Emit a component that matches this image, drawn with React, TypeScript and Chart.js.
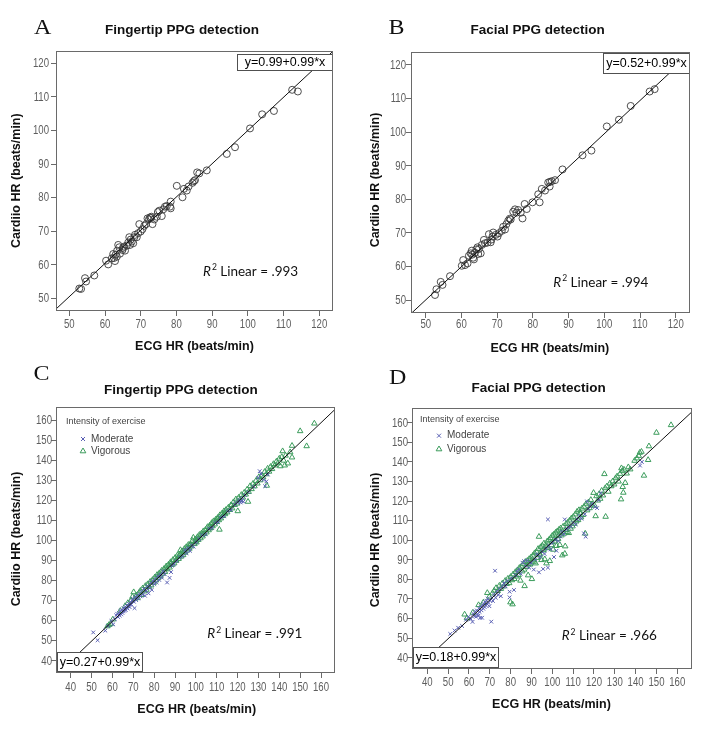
import React, { useEffect, useRef } from "react";
import { Chart, registerables } from "chart.js";
Chart.register(...registerables);

// ---------- DATA ----------
const TICKS_AB = [50, 60, 70, 80, 90, 100, 110, 120];
const TICKS_CD = [40, 50, 60, 70, 80, 90, 100, 110, 120, 130, 140, 150, 160];

// Panel A: fingertip, rest (ECG HR, Cardiio HR)
const A_POINTS: number[][] = [
  [52.8, 52.9], [53.3, 52.8], [54.4, 56.0], [54.7, 55.0], [57.0, 56.8], [60.3, 61.2], [60.9, 60.1],
  [61.9, 61.9], [62.3, 63.2], [62.8, 61.1], [63.3, 62.4], [63.4, 64.2], [64.0, 65.2], [63.7, 65.9],
  [64.2, 63.3], [64.9, 64.4], [65.3, 65.4], [65.6, 64.2], [66.1, 65.7], [66.5, 66.6], [66.8, 68.2],
  [67.0, 65.9], [67.5, 66.9], [67.9, 66.4], [68.2, 68.2], [68.4, 68.9], [68.9, 68.2], [69.3, 69.4],
  [69.6, 72.1], [70.0, 69.9], [70.5, 70.6], [71.0, 71.6], [71.5, 72.1], [71.9, 73.8], [72.3, 73.5],
  [72.6, 74.1], [73.0, 74.3], [73.3, 72.1], [73.8, 73.5], [74.5, 74.3], [74.8, 75.7], [75.2, 76.1],
  [75.9, 74.5], [76.3, 76.5], [76.8, 77.3], [77.3, 77.5], [78.2, 77.3], [78.4, 78.8], [78.4, 76.8],
  [80.1, 83.5], [81.7, 80.1], [82.1, 82.6], [82.9, 82.1], [83.4, 83.3], [84.5, 84.4], [84.9, 84.9],
  [85.2, 85.2], [85.8, 87.5], [86.4, 87.2], [88.5, 88.1], [94.1, 93.0], [96.4, 95.0], [100.6, 100.6],
  [104.0, 104.8], [107.3, 105.8], [112.4, 112.1], [114.0, 111.6], [62.5, 62.0], [63.0, 63.0],
  [72.8, 73.9], [65.0, 65.0], [67.2, 67.5]
];

// Panel B: facial, rest
const B_POINTS: number[][] = [
  [52.6, 51.5], [53.0, 53.2], [54.2, 55.4], [54.7, 54.5], [56.8, 57.1], [60.1, 60.2], [60.5, 61.9],
  [61.0, 60.4], [61.7, 60.9], [62.1, 63.2], [62.6, 63.9], [62.9, 64.7], [63.3, 62.6], [63.5, 62.1],
  [63.8, 64.1], [64.2, 65.1], [64.5, 65.7], [64.7, 63.7], [65.4, 63.9], [65.7, 66.4], [66.3, 67.9],
  [66.6, 66.9], [67.3, 67.1], [67.7, 69.6], [68.2, 67.2], [68.7, 68.9], [68.9, 70.1], [69.6, 69.4],
  [70.1, 68.9], [70.5, 69.9], [71.3, 70.6], [71.7, 71.8], [72.2, 71.0], [72.6, 72.6], [73.1, 73.6],
  [73.8, 74.0], [74.5, 76.3], [75.0, 77.0], [75.4, 76.0], [75.9, 76.8], [76.6, 76.0], [77.1, 74.3],
  [77.7, 78.6], [78.3, 77.1], [79.9, 79.1], [81.5, 81.5], [81.9, 79.1], [82.5, 83.1], [83.4, 82.6],
  [84.3, 85.0], [84.7, 83.8], [85.3, 85.4], [86.2, 85.7], [88.3, 88.9], [93.9, 93.1], [96.4, 94.5],
  [100.7, 101.7], [104.1, 103.7], [107.4, 107.8], [112.7, 112.1], [114.1, 112.8], [63.0, 63.5],
  [64.9, 65.2], [68.4, 68.0], [73.5, 74.2], [84.8, 85.2]
];

// Panel C: fingertip, exercise
const C_MODERATE: number[][] = [
  [50.8, 54.1], [52.9, 50.2], [56.6, 55.0], [57.8, 57.3], [59.5, 59.8], [60.4, 58.1], [61.2, 60.7],
  [61.8, 62.6], [62.3, 63.4], [62.7, 61.8], [63.1, 63.9], [63.5, 62.5], [63.8, 64.7], [64.2, 63.1],
  [64.4, 65.3], [64.8, 63.8], [65.1, 64.6], [65.3, 66.2], [65.7, 64.9], [65.9, 65.8], [66.2, 66.9],
  [66.4, 65.2], [66.8, 66.4], [67.0, 67.6], [67.3, 66.0], [67.6, 67.1], [67.9, 68.4], [68.2, 66.8],
  [68.5, 67.9], [68.8, 69.2], [69.1, 68.0], [69.5, 69.8], [69.8, 70.9], [70.3, 69.4], [70.6, 66.2],
  [70.9, 71.5], [71.4, 70.2], [71.8, 72.4], [72.3, 71.0], [72.9, 73.3], [73.4, 72.1], [74.0, 74.5],
  [74.6, 73.0], [75.1, 75.8], [75.6, 72.4], [76.2, 74.9], [76.8, 77.1], [77.3, 73.6], [77.9, 76.2],
  [78.4, 78.7], [78.9, 75.3], [79.5, 79.8], [80.1, 78.2], [80.6, 80.9], [81.2, 79.0], [81.8, 82.1],
  [82.4, 80.3], [83.0, 82.9], [83.7, 81.4], [84.3, 84.6], [85.0, 83.2], [86.2, 79.0], [87.4, 81.3],
  [88.1, 84.2], [88.6, 87.4], [89.5, 88.1], [90.8, 89.7], [92.3, 91.5], [93.6, 92.1], [94.8, 95.3],
  [95.5, 93.6], [96.4, 96.2], [97.2, 94.8], [98.1, 97.5], [98.9, 96.9], [100.2, 99.1], [101.5, 100.8],
  [103.1, 102.6], [104.7, 103.0], [106.3, 105.9], [107.8, 106.2], [109.4, 108.7], [110.6, 109.1],
  [111.9, 111.4], [113.5, 112.0], [115.2, 114.6], [116.8, 115.1], [118.6, 117.9], [119.8, 118.8],
  [120.6, 119.5], [121.1, 120.3], [121.5, 118.9], [121.9, 119.7], [122.4, 121.2], [122.8, 119.3],
  [123.5, 122.6], [125.2, 124.1], [127.6, 126.8], [129.8, 131.2], [130.6, 134.5], [131.2, 133.1],
  [132.4, 130.2], [133.2, 127.0], [133.8, 129.4], [134.5, 132.8]
];
const C_VIGOROUS: number[][] = [
  [57.6, 57.2], [58.4, 57.9], [59.1, 58.3], [60.2, 60.6], [63.8, 64.9], [66.1, 67.3], [67.4, 68.8],
  [68.9, 70.1], [69.6, 71.9], [70.2, 74.2], [70.8, 70.9], [71.5, 72.6], [72.1, 71.4], [72.7, 73.8],
  [73.4, 74.9], [73.9, 72.8], [74.5, 76.1], [75.2, 74.6], [75.8, 77.3], [76.3, 75.4], [76.9, 78.2],
  [77.5, 76.8], [78.1, 79.4], [78.6, 77.6], [79.2, 80.3], [79.8, 78.9], [80.3, 81.6], [80.9, 80.1],
  [81.4, 82.8], [81.9, 81.2], [82.5, 83.7], [83.0, 82.1], [83.6, 84.9], [84.1, 83.4], [84.7, 85.8],
  [85.2, 84.3], [85.8, 87.1], [86.3, 85.6], [86.9, 88.0], [87.4, 86.5], [87.9, 89.2], [88.5, 87.8],
  [89.0, 90.3], [89.6, 88.6], [90.1, 91.4], [90.6, 89.9], [91.2, 92.6], [91.7, 90.8], [92.3, 93.1],
  [92.6, 95.2], [92.8, 91.9], [93.4, 94.6], [93.9, 92.7], [94.5, 95.8], [94.9, 93.9], [95.4, 96.7],
  [95.9, 95.0], [96.4, 97.8], [96.9, 95.9], [97.4, 98.2], [97.9, 97.0], [98.4, 99.8], [98.8, 101.4],
  [99.3, 98.2], [99.8, 100.6], [100.3, 99.0], [100.8, 101.7], [101.2, 100.3], [101.7, 102.8],
  [102.2, 101.1], [102.7, 103.5], [103.2, 102.0], [103.6, 104.6], [104.1, 103.2], [104.6, 105.3],
  [105.1, 104.0], [105.6, 106.7], [106.1, 105.1], [106.6, 107.4], [107.1, 106.2], [107.6, 108.7],
  [108.0, 107.1], [108.5, 109.6], [109.0, 108.0], [109.5, 110.4], [110.0, 109.2], [110.5, 111.3],
  [111.0, 110.1], [111.3, 105.4], [111.5, 112.6], [112.0, 111.0], [112.5, 113.4], [113.0, 112.2],
  [113.5, 114.6], [114.0, 113.1], [114.5, 115.3], [115.0, 114.0], [115.6, 116.4], [116.2, 115.2],
  [116.8, 117.6], [117.4, 116.0], [118.0, 119.1], [118.6, 117.7], [119.2, 120.5], [119.8, 118.4],
  [120.1, 114.6], [120.5, 121.3], [121.1, 120.2], [121.8, 122.7], [122.5, 121.4], [123.2, 123.8],
  [123.9, 122.9], [124.6, 125.4], [125.0, 119.3], [125.3, 124.2], [126.0, 127.1], [126.7, 125.6],
  [127.4, 128.3], [128.1, 127.0], [128.8, 129.7], [129.5, 128.4], [130.2, 131.6], [130.9, 130.0],
  [131.6, 132.3], [132.3, 131.4], [133.0, 134.2], [133.7, 133.0], [134.0, 127.3], [134.4, 135.8],
  [135.1, 134.3], [135.8, 136.7], [136.5, 135.6], [137.2, 138.1], [137.9, 137.4], [138.6, 139.3],
  [139.3, 138.5], [140.0, 140.8], [140.5, 137.0], [141.2, 141.6], [141.6, 144.5], [142.1, 139.8],
  [142.6, 137.4], [143.0, 142.3], [144.1, 138.4], [145.2, 144.0], [146.1, 147.2], [146.1, 141.4],
  [150.0, 154.5], [153.1, 147.0], [156.8, 158.3], [88.2, 88.6], [90.4, 90.0], [94.2, 94.4],
  [97.1, 97.6], [100.5, 100.2], [103.4, 103.1], [106.8, 106.0], [110.2, 110.6], [113.8, 113.7],
  [117.1, 117.5], [99.6, 99.3], [96.1, 96.3], [92.0, 92.2], [85.5, 85.9], [82.2, 82.4]
];

// Panel D: facial, exercise
const D_MODERATE: number[][] = [
  [51.0, 52.1], [53.1, 53.9], [54.8, 55.3], [56.7, 56.2], [58.6, 59.4], [59.8, 60.9], [60.9, 59.8],
  [61.7, 58.3], [62.1, 62.4], [62.6, 61.2], [63.0, 63.6], [63.4, 60.9], [63.8, 64.1], [64.1, 62.3],
  [64.5, 61.4], [64.8, 65.2], [65.1, 63.4], [65.4, 60.3], [65.7, 66.1], [66.0, 64.2], [66.3, 60.4],
  [66.6, 66.8], [66.9, 65.0], [67.2, 67.6], [67.5, 65.9], [67.8, 68.3], [68.1, 66.7], [68.4, 69.1],
  [68.7, 67.4], [69.0, 70.2], [69.4, 68.0], [69.8, 66.3], [70.2, 69.1], [70.7, 58.4], [71.0, 70.5],
  [71.5, 69.0], [72.0, 72.3], [72.5, 84.4], [72.8, 70.6], [73.4, 73.9], [74.0, 72.1], [74.7, 75.2],
  [75.3, 71.4], [76.0, 76.3], [76.8, 78.1], [77.6, 76.4], [78.5, 79.2], [79.5, 73.7], [79.5, 70.8],
  [80.4, 80.6], [81.6, 74.6], [82.3, 82.0], [83.1, 83.9], [84.0, 85.1], [84.8, 82.9], [85.7, 88.5],
  [86.5, 89.3], [87.2, 86.8], [88.0, 89.6], [88.9, 86.0], [89.8, 88.4], [91.1, 85.0], [91.8, 90.2],
  [92.6, 92.8], [93.6, 83.6], [94.2, 91.5], [95.0, 94.1], [95.6, 85.3], [96.3, 93.0], [97.0, 95.7],
  [97.9, 86.0], [97.9, 110.6], [98.5, 97.2], [99.2, 95.3], [100.0, 98.6], [100.8, 91.4],
  [101.6, 100.2], [102.0, 94.6], [102.9, 99.6], [103.8, 101.9], [104.6, 104.3], [105.5, 103.1],
  [106.0, 110.6], [106.9, 105.5], [107.8, 106.4], [108.9, 107.0], [110.1, 108.9], [111.2, 108.1],
  [112.0, 110.7], [113.1, 112.4], [114.0, 111.0], [115.2, 103.5], [115.6, 113.3], [116.0, 101.8],
  [116.7, 119.8], [117.3, 115.9], [118.2, 117.4], [119.1, 118.6], [120.6, 117.0], [121.5, 116.4],
  [122.3, 120.5], [123.2, 124.0], [142.1, 138.1], [143.0, 140.0]
];
const D_VIGOROUS: number[][] = [
  [57.9, 62.1], [59.0, 60.2], [61.8, 63.0], [64.6, 66.9], [66.9, 68.2], [68.8, 73.1], [69.8, 71.2],
  [71.3, 72.9], [72.1, 74.3], [73.0, 75.6], [73.8, 74.1], [74.6, 76.8], [75.3, 75.2], [76.0, 77.9],
  [76.7, 76.4], [77.4, 79.3], [78.1, 77.7], [78.7, 80.4], [79.3, 78.1], [79.9, 68.3], [80.0, 81.3],
  [80.6, 79.6], [80.9, 67.3], [81.2, 82.6], [81.8, 80.2], [82.3, 83.8], [82.8, 81.5], [83.3, 84.7],
  [83.8, 82.3], [84.2, 85.9], [84.7, 79.4], [85.1, 86.6], [85.6, 84.1], [86.0, 87.8], [86.5, 85.0],
  [86.7, 76.6], [87.0, 88.9], [87.5, 86.4], [88.0, 89.5], [88.4, 82.1], [88.9, 90.4], [89.3, 87.6],
  [89.8, 91.3], [90.2, 80.2], [90.7, 92.2], [91.1, 89.0], [91.5, 93.4], [92.0, 88.2], [92.4, 94.1],
  [92.8, 91.0], [93.2, 95.6], [93.6, 101.8], [94.0, 92.6], [94.4, 96.5], [94.8, 89.9], [95.2, 97.3],
  [95.6, 94.8], [96.0, 98.4], [96.4, 90.3], [96.8, 97.0], [97.2, 88.2], [97.6, 99.5], [98.0, 96.1],
  [98.4, 100.2], [98.8, 89.4], [99.2, 101.1], [99.6, 97.5], [100.0, 102.3], [100.4, 95.2],
  [100.8, 103.0], [101.2, 99.4], [101.6, 103.9], [102.0, 97.1], [102.4, 104.6], [102.8, 100.7],
  [103.2, 105.4], [103.6, 97.6], [104.0, 106.1], [104.4, 102.5], [104.8, 92.3], [105.2, 107.0],
  [105.6, 103.4], [106.0, 93.1], [106.2, 96.9], [106.6, 108.3], [107.0, 104.2], [107.4, 109.0],
  [107.9, 103.7], [108.3, 110.1], [108.8, 105.9], [109.2, 111.2], [109.7, 107.1], [110.1, 112.0],
  [110.6, 108.4], [111.0, 113.2], [111.5, 109.6], [111.9, 114.6], [112.4, 110.3], [112.8, 115.4],
  [113.3, 113.8], [113.8, 111.7], [114.2, 116.2], [114.7, 112.9], [115.2, 117.1], [115.8, 103.4],
  [116.1, 118.4], [116.7, 115.3], [117.3, 119.3], [117.9, 116.4], [118.5, 120.6], [119.1, 118.2],
  [119.8, 124.2], [120.3, 117.6], [120.8, 112.3], [121.2, 122.5], [121.8, 120.3], [122.4, 123.4],
  [123.0, 121.2], [123.7, 125.3], [124.3, 122.9], [125.0, 133.8], [125.4, 126.6], [125.6, 112.0],
  [126.2, 127.5], [126.9, 124.8], [127.6, 129.0], [128.3, 127.6], [129.0, 130.1], [129.7, 128.5],
  [130.4, 131.7], [131.1, 132.6], [131.8, 130.0], [132.5, 133.9], [133.0, 120.9], [133.2, 136.8],
  [133.5, 135.3], [133.8, 127.2], [134.1, 124.3], [134.4, 136.1], [135.0, 129.3], [135.7, 134.1],
  [136.5, 137.3], [137.4, 136.2], [139.5, 140.6], [140.6, 141.8], [141.5, 143.1], [142.0, 144.7],
  [142.8, 145.2], [144.0, 133.0], [146.0, 141.0], [146.4, 148.0], [150.0, 154.9], [157.0, 158.8],
  [90.0, 89.6], [93.9, 93.2], [97.5, 96.8], [101.0, 100.6], [104.2, 103.9], [88.6, 87.9],
  [95.9, 95.2], [99.8, 99.0], [103.0, 102.2], [106.4, 105.3]
];

const FIT_A = [0.99, 0.99];
const FIT_B = [0.52, 0.99];
const FIT_C = [0.27, 0.99];
const FIT_D = [0.18, 0.99];
const R2_LABELS = [".993", ".994", ".991", ".966"];
const TITLES = ["Fingertip PPG detection", "Facial PPG detection", "Fingertip PPG detection", "Facial PPG detection"];
const LETTERS = ["A", "B", "C", "D"];
const SERIES_NAMES = ["Moderate", "Vigorous"];

// ---------- STYLE / LAYOUT ----------
const SANS = "'Liberation Sans', Arial, sans-serif";
const MOD_COLOR = "#5a60b4";
const VIG_COLOR = "#3c9c5c";
const FRAME = "#6a6a6a";

type Box = { l: number; t: number; r: number; b: number };
type PanelCfg = {
  idx: number;
  left: number; top: number; w: number; h: number;
  frame: Box;
  xr: number[]; yr: number[];
  ticks: number[];
  fit: number[];
  letter: number[]; title: number[]; yTitle: number[]; xTitle: number[];
  eqBox: Box; r2: number[];
  xLabOff: number; yLabGap: number;
  legend?: { head: number[]; mod: number[]; vig: number[] };
  rest?: number[][]; mod?: number[][]; vig?: number[][];
};

const PANELS: PanelCfg[] = [
  {
    idx: 0, left: 0, top: 0, w: 359, h: 360,
    frame: { l: 56, t: 51, r: 333, b: 311 },
    xr: [46.28, 123.84], yr: [46.22, 123.66], ticks: TICKS_AB, fit: FIT_A,
    letter: [34, 33.5], title: [182, 30], yTitle: [16.7, 180.7], xTitle: [194.5, 346.7],
    eqBox: { l: 237, t: 54, r: 333, b: 71 }, r2: [203, 271.7], rest: A_POINTS,
    xLabOff: 13.3, yLabGap: 7,
  },
  {
    idx: 1, left: 359, top: 0, w: 359, h: 360,
    frame: { l: 52, t: 52, r: 331, b: 313 },
    xr: [45.88, 124.0], yr: [46.13, 123.87], ticks: TICKS_AB, fit: FIT_B,
    letter: [29.5, 33.5], title: [178.7, 30.7], yTitle: [16.7, 180], xTitle: [190.8, 348.3],
    eqBox: { l: 244, t: 53, r: 331, b: 74 }, r2: [194.3, 282.7], rest: B_POINTS,
    xLabOff: 11.5, yLabGap: 5,
  },
  {
    idx: 2, left: 0, top: 360, w: 359, h: 369,
    frame: { l: 56, t: 47, r: 335, b: 313 },
    xr: [32.95, 166.7], yr: [33.87, 166.5], ticks: TICKS_CD, fit: FIT_C,
    letter: [33.5, 20], title: [180.8, 30], yTitle: [16.7, 179], xTitle: [196.7, 350],
    eqBox: { l: 57, t: 292, r: 143, b: 312 }, r2: [207.3, 274],
    legend: { head: [66, 61.7], mod: [83, 79], vig: [83, 91] },
    mod: C_MODERATE, vig: C_VIGOROUS,
    xLabOff: 15, yLabGap: 4,
  },
  {
    idx: 3, left: 359, top: 360, w: 359, h: 369,
    frame: { l: 53, t: 48, r: 333, b: 309 },
    xr: [32.65, 167.06], yr: [34.23, 167.5], ticks: TICKS_CD, fit: FIT_D,
    letter: [30, 24], title: [179.7, 28.3], yTitle: [16.7, 180], xTitle: [192.5, 345],
    eqBox: { l: 54, t: 287, r: 140, b: 308 }, r2: [202.7, 276],
    legend: { head: [61, 59.3], mod: [80, 75.7], vig: [80, 89] },
    mod: D_MODERATE, vig: D_VIGOROUS,
    xLabOff: 14, yLabGap: 4,
  },
];

const toXY = (arr: number[][]) => arr.map(([x, y]) => ({ x, y }));

function drawCross(ctx: CanvasRenderingContext2D, x: number, y: number, r: number, color: string) {
  ctx.save();
  ctx.strokeStyle = color; ctx.lineWidth = 1;
  ctx.beginPath();
  ctx.moveTo(x - r, y - r); ctx.lineTo(x + r, y + r);
  ctx.moveTo(x - r, y + r); ctx.lineTo(x + r, y - r);
  ctx.stroke();
  ctx.restore();
}
function drawTri(ctx: CanvasRenderingContext2D, x: number, y: number, r: number, color: string) {
  ctx.save();
  ctx.strokeStyle = color; ctx.lineWidth = 1;
  ctx.beginPath();
  ctx.moveTo(x, y - r); ctx.lineTo(x + r * 0.95, y + r * 0.6); ctx.lineTo(x - r * 0.95, y + r * 0.6);
  ctx.closePath(); ctx.stroke();
  ctx.restore();
}

// narrow-looking text (horizontal squeeze)
function narrowText(ctx: CanvasRenderingContext2D, text: string, x: number, y: number, align: "center" | "right", sx: number) {
  ctx.save();
  ctx.translate(x, y);
  ctx.scale(sx, 1);
  ctx.textAlign = align;
  ctx.fillText(text, 0, 0);
  ctx.restore();
}

function makeDecor(cfg: PanelCfg) {
  return {
    id: "decor" + cfg.idx,
    afterDatasetsDraw(chart: any) {
      const ctx: CanvasRenderingContext2D = chart.ctx;
      const { l, t, r, b } = cfg.eqBox;
      ctx.save();
      ctx.fillStyle = "#fff";
      ctx.fillRect(l, t, r - l, b - t);
      ctx.strokeStyle = "#505050"; ctx.lineWidth = 1;
      ctx.strokeRect(l + 0.5, t + 0.5, r - l - 1, b - t - 1);
      ctx.fillStyle = "#000";
      ctx.font = `12.5px ${SANS}`;
      ctx.textAlign = "center"; ctx.textBaseline = "middle";
      const [a, s] = cfg.fit;
      ctx.fillText(`y=${a.toFixed(2)}+${s.toFixed(2)}*x`, (l + r) / 2, (t + b) / 2 + 0.5);
      ctx.restore();
    },
    afterDraw(chart: any) {
      const ctx: CanvasRenderingContext2D = chart.ctx;
      const f = cfg.frame;
      ctx.save();
      ctx.strokeStyle = FRAME; ctx.lineWidth = 1;
      ctx.strokeRect(f.l + 0.5, f.t + 0.5, f.r - f.l - 1, f.b - f.t - 1);
      // tick labels from the library's scales
      ctx.fillStyle = "#5e5e5e";
      ctx.font = `12px ${SANS}`;
      ctx.textBaseline = "middle";
      const xs = chart.scales.x, ys = chart.scales.y;
      xs.ticks.forEach((tk: any) => {
        narrowText(ctx, String(tk.value), xs.getPixelForValue(tk.value), f.b + cfg.xLabOff, "center", 0.8);
      });
      ys.ticks.forEach((tk: any) => {
        narrowText(ctx, String(tk.value), f.l - cfg.yLabGap, ys.getPixelForValue(tk.value) + 0.5, "right", 0.8);
      });
      // letter
      ctx.fillStyle = "#111";
      ctx.font = `20px 'Liberation Serif', 'Times New Roman', serif`;
      ctx.textBaseline = "alphabetic";
      ctx.save();
      ctx.translate(cfg.letter[0], cfg.letter[1]);
      ctx.scale(1.2, 1);
      ctx.textAlign = "left";
      ctx.fillText(LETTERS[cfg.idx], 0, 0);
      ctx.restore();
      // title
      ctx.font = `bold 13.5px ${SANS}`;
      ctx.textAlign = "center"; ctx.textBaseline = "middle";
      ctx.fillText(TITLES[cfg.idx], cfg.title[0], cfg.title[1]);
      // axis titles
      ctx.font = `bold 12.5px ${SANS}`;
      ctx.fillText("ECG HR (beats/min)", cfg.xTitle[0], cfg.xTitle[1]);
      ctx.save();
      ctx.translate(cfg.yTitle[0], cfg.yTitle[1]);
      ctx.rotate(-Math.PI / 2);
      ctx.fillText("Cardiio HR (beats/min)", 0, 0);
      ctx.restore();
      // R2
      ctx.textAlign = "left"; ctx.textBaseline = "middle";
      let x = cfg.r2[0];
      const y = cfg.r2[1];
      ctx.font = `italic 13.5px Lato, ${SANS}`;
      ctx.fillText("R", x, y);
      x += ctx.measureText("R").width + 1;
      ctx.font = `8.5px Lato, ${SANS}`;
      ctx.fillText("2", x, y - 4);
      x += ctx.measureText("2").width;
      ctx.font = `13.5px Lato, ${SANS}`;
      ctx.fillText(" Linear = " + R2_LABELS[cfg.idx], x, y);
      // legend
      if (cfg.legend) {
        const L = cfg.legend;
        ctx.fillStyle = "#444";
        ctx.font = `9px ${SANS}`;
        ctx.fillText("Intensity of exercise", L.head[0], L.head[1]);
        ctx.font = `10px ${SANS}`;
        drawCross(ctx, L.mod[0], L.mod[1], 2, MOD_COLOR);
        ctx.fillText(SERIES_NAMES[0], L.mod[0] + 8, L.mod[1]);
        drawTri(ctx, L.vig[0], L.vig[1], 3, VIG_COLOR);
        ctx.fillText(SERIES_NAMES[1], L.vig[0] + 8, L.vig[1]);
      }
      ctx.restore();
    },
  };
}

function buildConfig(cfg: PanelCfg): any {
  const [a, s] = cfg.fit;
  const x0 = cfg.xr[0], x1 = cfg.xr[1];
  const datasets: any[] = [
    {
      label: "fit",
      data: [{ x: x0, y: a + s * x0 }, { x: x1, y: a + s * x1 }],
      showLine: true, borderColor: "#111", borderWidth: 1, pointRadius: 0, order: 0,
    },
  ];
  if (cfg.rest) {
    datasets.push({
      label: "HR", data: toXY(cfg.rest), pointStyle: "circle", pointRadius: 3.5,
      borderColor: "#3a3a3a", backgroundColor: "rgba(0,0,0,0)", pointBorderWidth: 0.9, order: 1,
    });
  }
  if (cfg.mod && cfg.vig) {
    datasets.push({
      label: SERIES_NAMES[0], data: toXY(cfg.mod), pointStyle: "crossRot", pointRadius: 2.6,
      borderColor: MOD_COLOR, backgroundColor: "rgba(0,0,0,0)", pointBorderWidth: 1, order: 1,
    });
    datasets.push({
      label: SERIES_NAMES[1], data: toXY(cfg.vig), pointStyle: "triangle", pointRadius: 3.2,
      borderColor: VIG_COLOR, backgroundColor: "rgba(0,0,0,0)", pointBorderWidth: 1, order: 2,
    });
  }
  const grid = { display: true, drawOnChartArea: false, drawTicks: true, tickLength: 5, color: FRAME };
  return {
    type: "scatter",
    data: { datasets },
    options: {
      animation: false, responsive: false, maintainAspectRatio: false,
      layout: { padding: { left: 0, top: cfg.frame.t, right: cfg.w - cfg.frame.r, bottom: 0 } },
      plugins: { legend: { display: false }, tooltip: { enabled: false }, title: { display: false } },
      events: [],
      scales: {
        x: {
          type: "linear", position: "bottom", min: cfg.xr[0], max: cfg.xr[1],
          afterFit: (sc: any) => { sc.height = cfg.h - cfg.frame.b; },
          afterBuildTicks: (sc: any) => { sc.ticks = cfg.ticks.map((v) => ({ value: v })); },
          grid, border: { display: false },
          ticks: { display: false, autoSkip: false, includeBounds: false },
        },
        y: {
          type: "linear", position: "left", min: cfg.yr[0], max: cfg.yr[1],
          afterFit: (sc: any) => { sc.width = cfg.frame.l; },
          afterBuildTicks: (sc: any) => { sc.ticks = cfg.ticks.map((v) => ({ value: v })); },
          grid, border: { display: false },
          ticks: { display: false, autoSkip: false, includeBounds: false },
        },
      },
    },
    plugins: [makeDecor(cfg)],
  };
}

function Panel({ cfg }: { cfg: PanelCfg }) {
  const ref = useRef<HTMLCanvasElement>(null);
  useEffect(() => {
    const chart = new Chart(ref.current as HTMLCanvasElement, buildConfig(cfg));
    return () => chart.destroy();
  }, [cfg]);
  return (
    <canvas
      ref={ref}
      width={cfg.w}
      height={cfg.h}
      style={{ position: "absolute", left: cfg.left, top: cfg.top, width: cfg.w, height: cfg.h }}
    />
  );
}

export default function App() {
  return (
    <div style={{ position: "absolute", left: 0, top: 0, width: 718, height: 729, background: "#fff" }}>
      {PANELS.map((p) => (
        <Panel key={p.idx} cfg={p} />
      ))}
    </div>
  );
}
